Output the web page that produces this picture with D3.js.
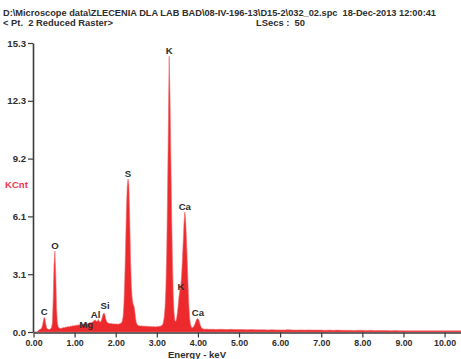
<!DOCTYPE html>
<html>
<head>
<meta charset="utf-8">
<script src="https://cdn.jsdelivr.net/npm/d3@7/dist/d3.min.js"></script>
<style>
  html, body { margin: 0; padding: 0; background: #fff; }
  svg { display: block; }
  text { font-family: "Liberation Sans", Arial, sans-serif; font-weight: bold; white-space: pre; }
</style>
</head>
<body>
<svg id="chart" width="461" height="359"></svg>
<script>
// ---- data ----
const titleLine1 = "D:\\Microscope data\\ZLECENIA DLA LAB BAD\\08-IV-196-13\\D15-2\\032_02.spc  18-Dec-2013 12:00:41";
const titleLine2 = "< Pt.  2 Reduced Raster>";
const liveSecs = "LSecs :  50";
const yLabel = "KCnt";
const xLabel = "Energy - keV";

// low-energy channels: start 0.00 keV, width 0.02 keV (kCnt)
const lowStart = 0.0, lowStep = 0.02;
const lowCounts = [
  0,0,0,0,0,
  0.04,0.08,0.12,0.14,0.16,
  0.22,0.36,0.6,0.78,0.68,
  0.4,0.22,0.16,0.14,0.13,
  0.14,0.17,0.25,0.5,1.8,
  3.6,4.28,3.2,1.3,0.5,
  0.28,0.22,0.2,0.19,0.2,
  0.21,0.23,0.24,0.23,0.26,
  0.25,0.28,0.27,0.29,0.28,
  0.31,0.3,0.32,0.33,0.32,
  0.34,0.35,0.36,0.35,0.37,
  0.38,0.37,0.39,0.38,0.4,
  0.41,0.43,0.45,0.44,0.42,
  0.43,0.44,0.46,0.48,0.5,
  0.48,0.51,0.53,0.57,0.62,
  0.64,0.6,0.56,0.58,0.66,
  0.56,0.52,0.56,0.68,0.85,
  0.98,1.0,0.88,0.68,0.56,
  0.5,0.47,0.45,0.46,0.44,
  0.45,0.43,0.44,0.42,0.43,
  0.42,0.43,0.41,0.42,0.43,
  0.44,0.46,0.48,0.58,0.82,
  1.5,2.8,4.5,6.4,7.7,
  8.1,7.8,6.1,4.0,2.5,
  1.8,1.5,1.4,1.2,0.8,
  0.5,0.4,0.36,0.33,0.33,
  0.32,0.33,0.31,0.32,0.31,
  0.31,0.3,0.31,0.3,0.29,
  0.3,0.29,0.29,0.28,0.29,
  0.28,0.29,0.28,0.27,0.28,
  0.28,0.29,0.29,0.3,0.31,
  0.32,0.34,0.38,0.52,0.8,
  1.3,2.3,4.2,7.2,10.8,
  14.6,12.6,9.5,6.4,3.8,
  2.0,1.0,0.6,0.55,0.7,
  1.0,1.4,1.9,2.2,2.4,
  2.9,3.7,4.7,5.7,6.35,
  6.0,5.0,3.8,2.5,1.4,
  0.7,0.4,0.27,0.22,0.24,
  0.3,0.38,0.5,0.62,0.7,
  0.7,0.65,0.5,0.35,0.25,
  0.19,0.17,0.16,0.15,0.15,
  0.15,0.16,0.15,0.14,0.15,
  0.14,0.15,0.14,0.14,0.15,
  0.14,0.13,0.14,0.13,0.14,
  0.14
];

// high-energy channels: start 4.6 keV, width 0.1 keV (kCnt)
const highStart = 4.6, highStep = 0.1;
const highCounts = [
  0.14,0.13,0.14,0.13,0.13,
  0.13,0.12,0.13,0.12,0.12,
  0.12,0.11,0.12,0.11,0.11,
  0.11,0.12,0.11,0.1,0.11,
  0.1,0.11,0.1,0.1,0.1,
  0.09,0.1,0.09,0.1,0.09,
  0.09,0.09,0.08,0.09,0.09,
  0.08,0.09,0.08,0.08,0.08,
  0.08,0.07,0.08,0.07,0.07,
  0.06,0.06,0.06,0.06,0.06,
  0.06,0.06,0.06,0.06,0.06,
  0.06,0.06,0.06,0.06
];

// peak labels: element, energy (keV), peak height (kCnt)
const peakNames    = ["C",  "O",  "Mg", "Al", "Si", "S",  "K",   "Ca", "K",  "Ca"];
const peakEnergies = [0.26, 0.52, 1.28, 1.51, 1.74, 2.30, 3.30,  3.68, 3.59, 4.00];
const peakHeights  = [0.78, 4.28, 0.12, 0.62, 1.10, 8.1,  14.6,  6.35, 2.1,  0.75];

const xTicks = [0,1,2,3,4,5,6,7,8,9,10];
const yTicks = [0, 3.06, 6.12, 9.18, 12.24, 15.3];
const yTickLabels = ["0.0", "3.1", "6.1", "9.2", "12.3", "15.3"];

// ---- build spectrum points ----
const spectrum = [];
lowCounts.forEach((v, i) => spectrum.push({ e: lowStart + i * lowStep, v }));
highCounts.forEach((v, i) => spectrum.push({ e: highStart + i * highStep, v }));

// ---- chart ----
const svg = d3.select("#chart");
const x = d3.scaleLinear().domain([0, 10.4]).range([33.5, 461]);
const y = d3.scaleLinear().domain([0, 15.3]).range([332, 43]);
const axisColor = "#3a3a3a";
const textColor = "#2e2e2e";

// titles
svg.append("text").attr("x", 3).attr("y", 16).attr("font-size", 9.4)
  .attr("textLength", 433).attr("lengthAdjust", "spacingAndGlyphs")
  .attr("fill", textColor).text(titleLine1);
svg.append("text").attr("x", 3).attr("y", 26).attr("font-size", 9.4)
  .attr("fill", textColor).text(titleLine2);
svg.append("text").attr("x", 256).attr("y", 26).attr("font-size", 9.4)
  .attr("fill", textColor).text(liveSecs);

// spectrum area
const area = d3.area()
  .x(d => x(d.e))
  .y0(y(0))
  .y1(d => y(d.v))
  .curve(d3.curveLinear);
svg.append("path").datum(spectrum)
  .attr("d", area)
  .attr("fill", "#ec2a2e")
  .attr("stroke", "#f06a6c")
  .attr("stroke-width", 0.6);

// y axis
const yAxis = d3.axisLeft(y).tickValues(yTicks)
  .tickFormat((d, i) => yTickLabels[i]).tickSize(5).tickSizeOuter(0);
const gy = svg.append("g").attr("transform", "translate(33,0)").call(yAxis);
gy.select(".domain").attr("stroke", axisColor).attr("stroke-width", 1.6);
gy.selectAll(".tick line").attr("stroke", axisColor).attr("stroke-width", 1.2);
gy.selectAll(".tick text").attr("font-size", 9.6).attr("fill", textColor)
  .attr("font-family", "Liberation Sans, Arial, sans-serif").attr("font-weight", "bold")
  .attr("x", -7);

// x axis
const xAxis = d3.axisBottom(x).tickValues(xTicks)
  .tickFormat(d3.format(".2f")).tickSize(5).tickSizeOuter(0);
const gx = svg.append("g").attr("transform", "translate(0,332.5)").call(xAxis);
gx.select(".domain").attr("stroke", axisColor).attr("stroke-width", 1.6);
gx.selectAll(".tick line").attr("stroke", axisColor).attr("stroke-width", 1.2);
gx.selectAll(".tick text").attr("font-size", 8.8).attr("fill", textColor)
  .attr("font-family", "Liberation Sans, Arial, sans-serif").attr("font-weight", "bold")
  .attr("y", 7);

// axis titles
svg.append("text").attr("x", 5).attr("y", 188).attr("font-size", 9.6)
  .attr("fill", "#f0384a").text(yLabel);
svg.append("text").attr("x", 197).attr("y", 358).attr("font-size", 9.6)
  .attr("text-anchor", "middle").attr("fill", textColor).text(xLabel);

// peak labels
svg.append("g").selectAll("text")
  .data(peakNames.map((n, i) => ({ n, e: peakEnergies[i], h: peakHeights[i] })))
  .join("text")
  .attr("x", d => x(d.e))
  .attr("y", d => y(d.h) - 2)
  .attr("text-anchor", "middle")
  .attr("font-size", 9.6)
  .attr("fill", textColor)
  .text(d => d.n);
</script>
</body>
</html>
